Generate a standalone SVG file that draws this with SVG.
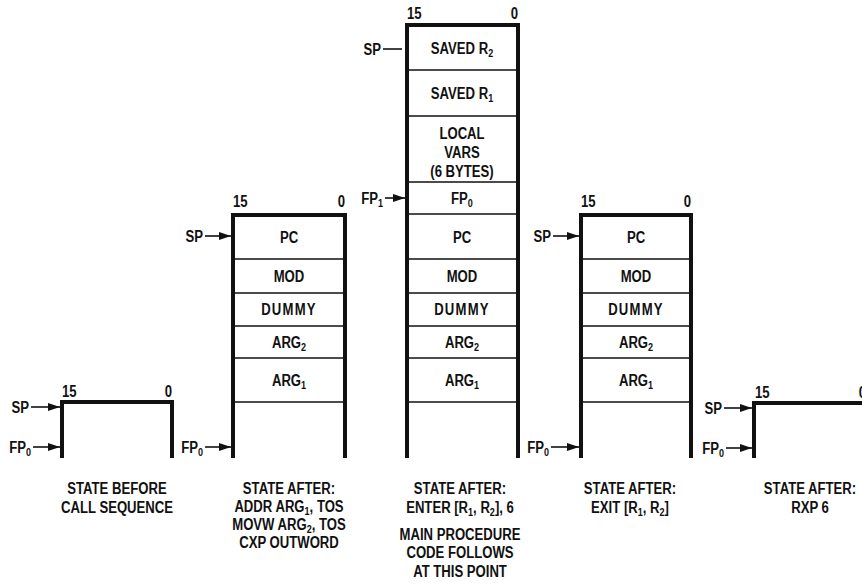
<svg xmlns="http://www.w3.org/2000/svg" width="862" height="584" viewBox="0 0 862 584">
<defs>
<style>
.w{fill:none;stroke:#111;stroke-width:4;stroke-linejoin:miter}
.d{stroke:#111;stroke-width:1.5}
text{font-family:"Liberation Sans",Arial,sans-serif;font-weight:bold;font-size:16px;fill:#111;text-anchor:middle}
.st{text-anchor:start}
.en{text-anchor:end}
.s{font-size:11px}
.a{stroke:#111;stroke-width:1.6;fill:none;marker-end:url(#ah)}
.n{stroke:#111;stroke-width:1.6;fill:none}
</style>
<marker id="ah" markerUnits="userSpaceOnUse" markerWidth="12" markerHeight="8" refX="12" refY="4" orient="auto"><path d="M0,0 L12,4 L0,8 z" fill="#111"/></marker>
</defs>
<rect width="862" height="584" fill="#fff"/>

<g id="stack1">
<path class="w" d="M62,458 V402 H172 V458"/>
<text class="st" transform="matrix(.82 0 0 1 62 397)">15</text>
<text class="en" transform="matrix(.82 0 0 1 172 397)">0</text>
<text transform="matrix(.82 0 0 1 117 494)">STATE BEFORE</text>
<text transform="matrix(.82 0 0 1 117 513)">CALL SEQUENCE</text>
</g>

<g id="stack2">
<path class="w" d="M233,458 V215 H345 V458"/>
<path class="d" d="M233,259 H345 M233,293 H345 M233,326 H345 M233,358 H345 M233,402 H345"/>
<text class="st" transform="matrix(.82 0 0 1 233 207)">15</text>
<text class="en" transform="matrix(.82 0 0 1 345 207)">0</text>
<text transform="matrix(.82 0 0 1 289 243)">PC</text>
<text transform="matrix(.82 0 0 1 289 282)">MOD</text>
<text transform="matrix(.82 0 0 1 289 315)" letter-spacing="1.5">DUMMY</text>
<text transform="matrix(.82 0 0 1 289 348)">ARG<tspan class="s" dy="3">2</tspan></text>
<text transform="matrix(.82 0 0 1 289 386)">ARG<tspan class="s" dy="3">1</tspan></text>
<text transform="matrix(.82 0 0 1 289 494)">STATE AFTER:</text>
<text transform="matrix(.82 0 0 1 289 512)">ADDR ARG<tspan class="s" dy="3">1</tspan><tspan dy="-3">, TOS</tspan></text>
<text transform="matrix(.82 0 0 1 289 530)">MOVW ARG<tspan class="s" dy="3">2</tspan><tspan dy="-3">, TOS</tspan></text>
<text transform="matrix(.82 0 0 1 289 548)">CXP OUTWORD</text>
</g>

<g id="stack3">
<path class="w" d="M407,458 V25 H518 V458"/>
<path class="d" d="M407,70 H518 M407,116 H518 M407,182 H518 M407,214 H518 M407,259 H518 M407,293 H518 M407,326 H518 M407,358 H518 M407,402 H518"/>
<text class="st" transform="matrix(.82 0 0 1 407 19)">15</text>
<text class="en" transform="matrix(.82 0 0 1 518 19)">0</text>
<text transform="matrix(.82 0 0 1 462 54)">SAVED R<tspan class="s" dy="3">2</tspan></text>
<text transform="matrix(.82 0 0 1 462 99)">SAVED R<tspan class="s" dy="3">1</tspan></text>
<text transform="matrix(.82 0 0 1 462 139)">LOCAL</text>
<text transform="matrix(.82 0 0 1 462 158)">VARS</text>
<text transform="matrix(.82 0 0 1 462 177)">(6 BYTES)</text>
<text transform="matrix(.82 0 0 1 462 204)">FP<tspan class="s" dy="3">0</tspan></text>
<text transform="matrix(.82 0 0 1 462 243)">PC</text>
<text transform="matrix(.82 0 0 1 462 282)">MOD</text>
<text transform="matrix(.82 0 0 1 462 315)" letter-spacing="1.5">DUMMY</text>
<text transform="matrix(.82 0 0 1 462 348)">ARG<tspan class="s" dy="3">2</tspan></text>
<text transform="matrix(.82 0 0 1 462 386)">ARG<tspan class="s" dy="3">1</tspan></text>
<text transform="matrix(.82 0 0 1 460 494)">STATE AFTER:</text>
<text transform="matrix(.82 0 0 1 460 513)">ENTER [R<tspan class="s" dy="3">1</tspan><tspan dy="-3">, R</tspan><tspan class="s" dy="3">2</tspan><tspan dy="-3">], 6</tspan></text>
<text transform="matrix(.82 0 0 1 460 540)">MAIN PROCEDURE</text>
<text transform="matrix(.82 0 0 1 460 558)">CODE FOLLOWS</text>
<text transform="matrix(.82 0 0 1 460 577)">AT THIS POINT</text>
</g>

<g id="stack4">
<path class="w" d="M581,458 V215 H691 V458"/>
<path class="d" d="M581,259 H691 M581,293 H691 M581,326 H691 M581,358 H691 M581,402 H691"/>
<text class="st" transform="matrix(.82 0 0 1 581 207)">15</text>
<text class="en" transform="matrix(.82 0 0 1 691 207)">0</text>
<text transform="matrix(.82 0 0 1 636 243)">PC</text>
<text transform="matrix(.82 0 0 1 636 282)">MOD</text>
<text transform="matrix(.82 0 0 1 636 315)" letter-spacing="1.5">DUMMY</text>
<text transform="matrix(.82 0 0 1 636 348)">ARG<tspan class="s" dy="3">2</tspan></text>
<text transform="matrix(.82 0 0 1 636 386)">ARG<tspan class="s" dy="3">1</tspan></text>
<text transform="matrix(.82 0 0 1 630 494)">STATE AFTER:</text>
<text transform="matrix(.82 0 0 1 630 513)">EXIT [R<tspan class="s" dy="3">1</tspan><tspan dy="-3">, R</tspan><tspan class="s" dy="3">2</tspan><tspan dy="-3">]</tspan></text>
</g>

<g id="stack5">
<path class="w" d="M754,458 V403 H866 V458"/>
<text class="st" transform="matrix(.82 0 0 1 755 398)">15</text>
<text class="en" transform="matrix(.82 0 0 1 866 398)">0</text>
<text transform="matrix(.82 0 0 1 810 494)">STATE AFTER:</text>
<text transform="matrix(.82 0 0 1 810 513)">RXP 6</text>
</g>

<g id="connectors">
<line class="a" x1="31" y1="407" x2="60" y2="407"/>
<text class="en" transform="matrix(.82 0 0 1 29 413)">SP</text>
<line class="a" x1="33" y1="447" x2="60" y2="447"/>
<text class="en" transform="matrix(.82 0 0 1 31 453)">FP<tspan class="s" dy="3">0</tspan></text>

<line class="a" x1="205" y1="236" x2="231" y2="236"/>
<text class="en" transform="matrix(.82 0 0 1 203 242)">SP</text>
<line class="a" x1="205" y1="447" x2="231" y2="447"/>
<text class="en" transform="matrix(.82 0 0 1 203 453)">FP<tspan class="s" dy="3">0</tspan></text>

<line class="n" x1="383" y1="49" x2="402" y2="49"/>
<text class="en" transform="matrix(.82 0 0 1 381 55)">SP</text>
<line class="a" x1="385" y1="198" x2="405" y2="198"/>
<text class="en" transform="matrix(.82 0 0 1 383 204)">FP<tspan class="s" dy="3">1</tspan></text>

<line class="a" x1="553" y1="236" x2="579" y2="236"/>
<text class="en" transform="matrix(.82 0 0 1 551 242)">SP</text>
<line class="a" x1="551" y1="447" x2="579" y2="447"/>
<text class="en" transform="matrix(.82 0 0 1 549 453)">FP<tspan class="s" dy="3">0</tspan></text>

<line class="a" x1="724" y1="408" x2="752" y2="408"/>
<text class="en" transform="matrix(.82 0 0 1 722 414)">SP</text>
<line class="a" x1="726" y1="448" x2="752" y2="448"/>
<text class="en" transform="matrix(.82 0 0 1 724 454)">FP<tspan class="s" dy="3">0</tspan></text>
</g>
</svg>
